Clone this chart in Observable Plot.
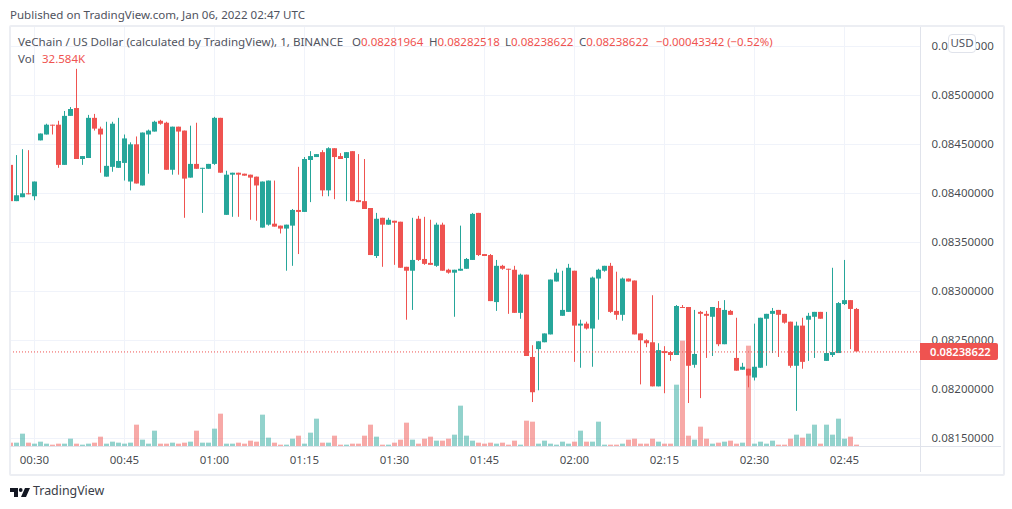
<!DOCTYPE html>
<html><head><meta charset="utf-8">
<script src="https://cdn.jsdelivr.net/npm/d3@7"></script>
<script src="https://cdn.jsdelivr.net/npm/@observablehq/plot@0.6"></script>
<style>
html,body{margin:0;padding:0;background:#fff;width:1012px;height:509px;overflow:hidden}
body{position:relative;font-family:"Noto Sans",sans-serif;font-size:11.5px;color:#50535e}
.a{position:absolute;white-space:pre;line-height:16px}
.r{color:#ef5350}
svg.plot{position:absolute;left:0;top:0}
</style></head><body>
<div id="chart"></div>
<script>
// prices are stored in units of 0.00001 USD
const unit = 1e-5;
const open = [
8429,8392,8396,8400,8397,8454,8460,8470,8470,8429,
8479,8487,8435,8436,8477,8466,8417,8427,8426,8431,
8412,8450,8408,8460,8463,8474,8472,8424,8468,8464,
8416,8430,8425,8425,8430,8477,8378,8419,8421,8420,
8419,8417,8365,8368,8369,8367,8364,8367,8383,8381,
8434,8437,8442,8403,8446,8438,8436,8443,8393,8392,
8385,8336,8375,8368,8372,8371,8325,8321,8374,8333,
8329,8326,8368,8322,8319,8321,8323,8332,8380,8338,
8337,8289,8326,8323,8322,8278,8317,8233,8241,8248,
8256,8310,8275,8279,8321,8265,8267,8262,8313,8321,
8326,8280,8276,8313,8311,8257,8250,8248,8203,8239,
8238,8235,8284,8284,8225,8279,8277,8274,8283,8246,
8280,8232,8220,8221,8212,8222,8272,8277,8281,8277,
8269,8224,8265,8271,8274,8279,8229,8235,8237,8287,
8291,8282];
const close = [
8392,8398,8400,8399,8412,8461,8470,8469,8429,8479,
8486,8435,8438,8477,8466,8460,8428,8471,8433,8456,
8450,8410,8462,8464,8473,8471,8424,8468,8463,8415,
8430,8425,8426,8430,8477,8421,8419,8421,8419,8418,
8416,8408,8412,8413,8366,8364,8368,8383,8381,8435,
8438,8440,8403,8446,8437,8435,8442,8392,8391,8384,
8337,8374,8368,8373,8370,8324,8321,8332,8332,8328,
8327,8368,8321,8319,8322,8323,8333,8379,8337,8336,
8290,8326,8323,8322,8278,8317,8234,8197,8249,8257,
8312,8319,8281,8324,8265,8267,8262,8314,8322,8326,
8279,8276,8313,8310,8256,8250,8247,8203,8240,8237,
8235,8285,8283,8224,8236,8277,8275,8284,8246,8281,
8276,8219,8223,8214,8223,8273,8277,8280,8276,8268,
8224,8265,8228,8275,8279,8272,8237,8238,8288,8291,
8282,8238.622];
const high = [
8434,8439,8445,8444,8412,8461,8471,8470,8474,8484,
8488,8527,8438,8480,8481,8468,8473,8473,8477,8460,
8452,8458,8462,8465,8474,8475,8473,8468,8468,8464,
8469,8472,8426,8430,8478,8477,8423,8421,8421,8420,
8419,8417,8412,8413,8413,8367,8368,8384,8427,8437,
8443,8440,8444,8447,8446,8441,8442,8443,8440,8435,
8385,8380,8375,8375,8372,8371,8325,8375,8377,8376,
8373,8370,8370,8323,8322,8367,8334,8380,8380,8338,
8338,8332,8327,8323,8326,8318,8317,8245,8249,8257,
8312,8323,8321,8328,8321,8271,8269,8315,8323,8326,
8329,8320,8314,8313,8311,8257,8251,8296,8247,8244,
8239,8286,8286,8284,8281,8280,8280,8284,8290,8291,
8281,8273,8227,8221,8267,8273,8277,8283,8281,8277,
8269,8269,8273,8278,8279,8279,8279,8324,8289,8332,
8291,8283];
const low = [
8391,8392,8396,8399,8393,8454,8460,8460,8426,8429,
8479,8435,8429,8436,8464,8421,8417,8422,8426,8413,
8403,8410,8408,8420,8463,8470,8424,8419,8419,8375,
8416,8425,8380,8425,8429,8421,8378,8376,8376,8418,
8373,8372,8365,8367,8366,8359,8321,8326,8338,8381,
8391,8437,8397,8397,8394,8435,8392,8392,8391,8384,
8337,8334,8325,8368,8327,8324,8271,8281,8331,8327,
8327,8325,8321,8318,8274,8321,8323,8332,8336,8336,
8290,8280,8322,8277,8278,8272,8234,8187,8199,8248,
8256,8310,8275,8279,8228,8222,8261,8223,8271,8320,
8278,8271,8270,8310,8256,8205,8243,8203,8203,8196,
8229,8235,8283,8186,8222,8191,8232,8234,8244,8246,
8276,8219,8220,8202,8209,8222,8224,8237,8233,8267,
8222,8178,8221,8229,8232,8272,8229,8233,8237,8286,
8241,8238.622];
// volume, thousands
const volume = [
80,80,296,80,56,104,56,32,56,56,176,56,32,56,80,224,56,104,80,56,80,512,152,56,368,56,56,80,56,80,104,368,80,80,416,776,56,56,80,56,128,104,752,200,80,32,32,176,248,
56,320,656,80,80,248,32,32,56,56,248,512,224,32,32,80,152,560,152,56,176,224,128,128,176,272,968,248,128,80,56,80,56,80,32,128,32,608,584,56,128,56,32,104,56,104,368,104,104,584,
32,32,32,56,152,176,56,56,176,104,56,56,1472,2528,248,152,464,176,56,80,104,128,56,80,2408,56,104,56,128,32,32,176,272,200,296,512,56,512,272,656,176,224,32.584];

const firstBar = Date.UTC(2022,0,6,0,26);
const priceTicks = [8150,8200,8250,8300,8350,8400,8450,8500,8550];
const timeTicks = ["00:30","00:45","01:00","01:15","01:30","01:45","02:00","02:15","02:30","02:45"];
const lastPrice = 8238.622;
const UP = "#26a69a", DOWN = "#ef5350";

const toDate = s => new Date(Date.UTC(2022,0,6,+s.slice(0,2),+s.slice(3)));
const bars = open.map((o,i) => ({
  t: new Date(firstBar + i*60000),
  o: o*unit, h: high[i]*unit, l: low[i]*unit, c: close[i]*unit, v: volume[i],
  col: close[i] >= o ? UP : DOWN
}));

const pxPerUnit = 0.98;
const yAt = px => (8500 - (px-95)/pxPerUnit)*unit;  // domain ends for the price pane
const xAt = px => new Date(Date.UTC(2022,0,6,0,30) + (px-34)/6*60000);
const volBase = yAt(446);
const volScale = 0.04252*unit;   // price units per thousand of volume

const plot = Plot.plot({
  width:1012, height:509,
  marginLeft:10, marginRight:92, marginTop:27, marginBottom:63,
  style:{background:"transparent",fontFamily:'"Noto Sans",sans-serif',fontSize:"11.5px",color:"#50535e",overflow:"visible"},
  x:{type:"utc",domain:[xAt(10),xAt(920)]},
  y:{type:"linear",domain:[yAt(446),yAt(27)]},
  marks:[
    Plot.ruleX(timeTicks.map(toDate),{stroke:"#f0f3fa"}),
    Plot.ruleY(priceTicks.map(d=>d*unit),{stroke:"#f0f3fa"}),
    Plot.ruleX(bars,{x:"t",y1:volBase,y2:d=>volBase+d.v*volScale,stroke:"col",strokeOpacity:0.5,strokeWidth:5,clip:true}),
    Plot.ruleX(bars,{x:"t",y1:"l",y2:"h",stroke:"col",strokeWidth:1,dy:0.3,clip:true}),
    Plot.ruleX(bars,{x:"t",y1:"o",y2:"c",stroke:"col",strokeWidth:5,dy:0.3,clip:true}),
    Plot.ruleY([lastPrice*unit],{stroke:DOWN,strokeDasharray:"1 2",dy:0.3}),
    Plot.axisX({ticks:timeTicks.map(toDate),tickFormat:d3.utcFormat("%H:%M"),tickSize:0,tickPadding:9,label:null,anchor:"bottom",fill:"#131722",fillOpacity:0.8}),
    Plot.axisY({ticks:priceTicks.map(d=>d*unit),tickFormat:d=>d.toFixed(8),tickSize:0,tickPadding:11,label:null,anchor:"right",fill:"#131722",fillOpacity:0.8})
  ]
});
plot.classList.add("plot");
document.getElementById("chart").appendChild(plot);

function box(css,text,cls){const e=document.createElement("div");e.className="a"+(cls?" "+cls:"");e.style.cssText=css;if(text!=null)e.innerHTML=text;document.body.appendChild(e);return e;}
// frame and separators
box("left:9px;top:25px;width:992px;height:447px;border:2px solid #eceef3;border-radius:2px");
box("left:920px;top:27px;width:1px;height:445px;background:#e0e3eb");
box("left:10px;top:446px;width:991px;height:1px;background:#e0e3eb");
// header
box("left:10px;top:7px;font-size:11.55px;color:#50535e","Published on TradingView.com, Jan 06, 2022 02:47 UTC");
box("left:18px;top:34px;font-size:11.6px","VeChain / US Dollar (calculated by TradingView), 1, BINANCE");
box("left:352px;top:34px",'O<span class="r">0.08281964</span>');
box("left:429px;top:34px",'H<span class="r">0.08282518</span>');
box("left:505px;top:34px",'L<span class="r">0.08238622</span>');
box("left:579px;top:34px",'C<span class="r">0.08238622</span>');
box("left:656px;top:34px;font-size:11.4px",'<span class="r">−0.00043342 (−0.52%)</span>');
box("left:18px;top:51px","Vol");
box("left:42px;top:51px",'<span class="r">32.584K</span>');
// USD button
box("left:948px;top:34px;width:26px;height:17px;background:#fff;border:1px solid #e0e3eb;border-radius:4px;text-align:center;color:#50535e;line-height:16px","USD");
// last price tag
box("left:920px;top:343px;width:78px;height:17px;background:#ef5350;color:#fff;font-weight:600;font-size:11.2px;line-height:17px;text-indent:10px;border-radius:0 2px 2px 0","0.08238622");
// brand
const logo=box("left:10px;top:486px;width:20px;height:11px");
logo.innerHTML='<svg width="20" height="11" viewBox="0 0 20 11"><path fill="#131722" d="M0 1h8v9H4V5H0zM15 1h5l-4 9h-5z"/><circle cx="10.7" cy="3" r="1.9" fill="#131722"/></svg>';
box("left:33px;top:483px;font-size:12.4px;color:#3a3d47","TradingView");
</script>
</body></html>
